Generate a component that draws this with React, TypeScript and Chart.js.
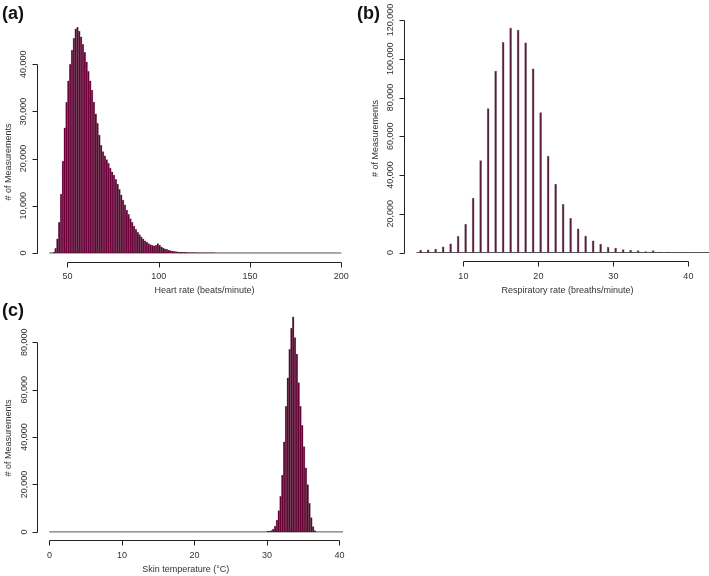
import React, { useEffect, useRef } from 'react';
import { Chart, registerables } from 'chart.js';

Chart.register(...registerables);

const FONT = '"Liberation Sans", Arial, Helvetica, sans-serif';
const PAGE_W = 709;
const PAGE_H = 576;

// ---------- (a) Heart rate ----------
const HR_RANGE = [40, 200];
const HR_BIN_START = 42;
const HR_BIN_WIDTH = 1;
const HR_COUNTS = [
  200, 1000, 3000, 6500, 12500, 19500, 26500, 32000, 36500, 40000,
  43000, 45500, 47500, 47800, 47000, 45800, 44200, 42500, 40500, 38500,
  36500, 34500, 32000, 29500, 27500, 25000, 22800, 21500, 20600, 19800,
  19000, 18000, 17200, 16500, 15600, 14600, 13500, 12300, 11200, 10200,
  9100, 8200, 7300, 6500, 5700, 5000, 4400, 3900, 3400, 3000,
  2600, 2300, 2000, 1800, 1600, 1500, 1600, 2000, 1700, 1300,
  1100, 900, 750, 600, 500, 420, 350, 300, 250, 210,
  180, 150, 130, 110, 90, 80, 70, 60, 50, 45,
  40, 35, 30, 25, 20, 18, 15, 12, 10,
];
const HR_X_TICKS = [50, 100, 150, 200];
const HR_Y_TICKS = [0, 10000, 20000, 30000, 40000];

// ---------- (b) Respiratory rate ----------
const RESP_RANGE = [3.75, 43.75];
const RESP_RATES = [
  4, 5, 6, 7, 8, 9, 10, 11, 12, 13, 14, 15, 16, 17, 18, 19, 20, 21, 22, 23,
  24, 25, 26, 27, 28, 29, 30, 31, 32, 33, 34, 35, 36, 37, 38, 39, 40, 41, 42,
];
const RESP_COUNTS = [
  1400, 1600, 1900, 3100, 4700, 8500, 14700, 28300, 47600, 74500,
  93800, 108600, 116000, 115000, 108400, 95000, 72400, 50000, 35500, 25000,
  17800, 12400, 8600, 6200, 4500, 2900, 2400, 1700, 1400, 1200,
  700, 1200, 400, 400, 200, 200, 100, 100, 50,
];
const RESP_BAR_SHIFT = 0.3;
const RESP_X_TICKS = [10, 20, 30, 40];
const RESP_Y_TICKS = [0, 20000, 40000, 60000, 80000, 100000, 120000];

// ---------- (c) Skin temperature ----------
const SKIN_RANGE = [0, 40.5];
const SKIN_BIN_START = 30.0;
const SKIN_BIN_WIDTH = 0.25;
const SKIN_COUNTS = [
  200, 300, 600, 1200, 2500, 5000, 9000, 15000, 24000, 38000,
  53000, 65000, 77000, 86000, 90800, 82000, 75000, 63000, 53000, 45000,
  36000, 27000, 20000, 12000, 6000, 2200, 600,
];
const SKIN_X_TICKS = [0, 10, 20, 30, 40];
const SKIN_Y_TICKS = [0, 20000, 40000, 60000, 80000];

const fmt = (v: number) => v.toLocaleString('en-US');
const crisp = (v: number) => Math.floor(v) + 0.5;

const rAxesPlugin = {
  id: 'rAxes',
  afterDraw(chart: any, _args: any, opts: any) {
    const ctx = chart.ctx as CanvasRenderingContext2D;
    const xs = chart.scales.x;
    const ys = chart.scales.y;
    const ca = chart.chartArea;
    ctx.save();
    ctx.strokeStyle = '#222';
    ctx.fillStyle = '#333';
    ctx.lineWidth = 1;
    const tick = 5;

    // y axis
    const ax = crisp(ca.left);
    const yTop = ys.getPixelForValue(opts.yTicks[opts.yTicks.length - 1]);
    const yBot = ys.getPixelForValue(opts.yTicks[0]);
    ctx.beginPath();
    ctx.moveTo(ax, Math.round(yBot) + 0.5);
    ctx.lineTo(ax, Math.round(yTop) + 0.5);
    opts.yTicks.forEach((t: number) => {
      const py = Math.round(ys.getPixelForValue(t)) + 0.5;
      ctx.moveTo(ax, py);
      ctx.lineTo(ax - tick, py);
    });
    ctx.stroke();
    ctx.font = `9px ${FONT}`;
    ctx.textAlign = 'center';
    ctx.textBaseline = 'middle';
    opts.yTicks.forEach((t: number) => {
      const py = ys.getPixelForValue(t);
      ctx.save();
      ctx.translate(ca.left - 13.5, py);
      ctx.rotate(-Math.PI / 2);
      ctx.fillText(fmt(t), 0, 0);
      ctx.restore();
    });

    // x axis
    const ay = crisp(ca.bottom);
    const xL = xs.getPixelForValue(opts.xTicks[0]);
    const xR = xs.getPixelForValue(opts.xTicks[opts.xTicks.length - 1]);
    ctx.beginPath();
    ctx.moveTo(Math.round(xL) + 0.5, ay);
    ctx.lineTo(Math.round(xR) + 0.5, ay);
    opts.xTicks.forEach((t: number) => {
      const px = Math.round(xs.getPixelForValue(t)) + 0.5;
      ctx.moveTo(px, ay);
      ctx.lineTo(px, ay + tick);
    });
    ctx.stroke();
    opts.xTicks.forEach((t: number) => {
      ctx.fillText(fmt(t), xs.getPixelForValue(t), ca.bottom + 15);
    });

    // titles
    ctx.fillText(opts.xTitle, opts.xTitlePos[0], opts.xTitlePos[1]);
    ctx.save();
    ctx.translate(opts.yTitlePos[0], opts.yTitlePos[1]);
    ctx.rotate(-Math.PI / 2);
    ctx.fillText('# of Measurements', 0, 0);
    ctx.restore();

    // panel letter
    ctx.fillStyle = '#111';
    ctx.font = `bold 18px ${FONT}`;
    ctx.textAlign = 'left';
    ctx.fillText(opts.letter, opts.letterPos[0], opts.letterPos[1]);
    ctx.restore();
  },
};

type Spec = {
  canvasWidth: number;
  plot: { left: number; right: number; top: number; bottom: number };
  range: number[];
  bars: { x: number; y: number }[];
  barFill: string;
  barBorder: string;
  barBorderWidth: number;
  barPct: number;
  xTicks: number[];
  yTicks: number[];
  xTitle: string;
  xTitlePos: number[];
  yTitlePos: number[];
  letter: string;
  letterPos: number[];
};

function Panel({ spec }: { spec: Spec }) {
  const ref = useRef<HTMLCanvasElement | null>(null);
  useEffect(() => {
    if (!ref.current) return;
    const pad = (spec.range[1] - spec.range[0]) * 0.04;
    const yMax = Math.max(...spec.bars.map((b) => b.y));
    const chart = new Chart(ref.current, {
      type: 'bar',
      data: {
        datasets: [
          {
            type: 'line',
            data: [
              { x: spec.range[0], y: 0 },
              { x: spec.range[1], y: 0 },
            ],
            borderColor: '#555',
            borderWidth: 1,
            pointRadius: 0,
            order: 2,
          } as any,
          {
            type: 'bar',
            data: spec.bars,
            backgroundColor: spec.barFill,
            borderColor: spec.barBorder,
            borderWidth: spec.barBorderWidth,
            barPercentage: spec.barPct,
            categoryPercentage: 1,
            order: 1,
          } as any,
        ],
      },
      options: {
        responsive: false,
        animation: false,
        devicePixelRatio: 1,
        events: [],
        layout: {
          padding: {
            left: spec.plot.left,
            top: spec.plot.top,
            right: spec.canvasWidth - spec.plot.right,
            bottom: PAGE_H - spec.plot.bottom,
          },
        },
        plugins: {
          legend: { display: false },
          tooltip: { enabled: false },
          rAxes: {
            xTicks: spec.xTicks,
            yTicks: spec.yTicks,
            xTitle: spec.xTitle,
            xTitlePos: spec.xTitlePos,
            yTitlePos: spec.yTitlePos,
            letter: spec.letter,
            letterPos: spec.letterPos,
          },
        } as any,
        scales: {
          x: {
            type: 'linear',
            min: spec.range[0] - pad,
            max: spec.range[1] + pad,
            offset: false,
            display: false,
          },
          y: {
            type: 'linear',
            min: -0.04 * yMax,
            max: 1.04 * yMax,
            display: false,
          },
        },
      },
      plugins: [rAxesPlugin],
    });
    return () => chart.destroy();
  }, [spec]);
  return (
    <canvas
      ref={ref}
      width={spec.canvasWidth}
      height={PAGE_H}
      style={{ position: 'absolute', left: 0, top: 0, width: spec.canvasWidth, height: PAGE_H }}
    />
  );
}

const specA: Spec = {
  canvasWidth: PAGE_W,
  plot: { left: 37.5, right: 353, top: 18.4, bottom: 262 },
  range: HR_RANGE,
  bars: HR_COUNTS.map((c, i) => ({ x: HR_BIN_START + i * HR_BIN_WIDTH + HR_BIN_WIDTH / 2, y: c })),
  barFill: '#6c0039',
  barBorder: 'rgba(30,0,15,0.45)',
  barBorderWidth: 0.5,
  barPct: 1,
  xTicks: HR_X_TICKS,
  yTicks: HR_Y_TICKS,
  xTitle: 'Heart rate (beats/minute)',
  xTitlePos: [204.5, 291],
  yTitlePos: [8.3, 162],
  letter: '(a)',
  letterPos: [2, 14],
};

const specB: Spec = {
  canvasWidth: 730,
  plot: { left: 404.5, right: 728.5, top: 18.8, bottom: 261.5 },
  range: RESP_RANGE,
  bars: RESP_RATES.map((r, i) => ({ x: r + RESP_BAR_SHIFT, y: RESP_COUNTS[i] })),
  barFill: '#5a1a3c',
  barBorder: 'rgba(30,5,18,0.6)',
  barBorderWidth: 0.5,
  barPct: 0.36,
  xTicks: RESP_X_TICKS,
  yTicks: RESP_Y_TICKS,
  xTitle: 'Respiratory rate (breaths/minute)',
  xTitlePos: [567.5, 291],
  yTitlePos: [376, 138.5],
  letter: '(b)',
  letterPos: [357, 14.5],
};

const specC: Spec = {
  canvasWidth: PAGE_W,
  plot: { left: 37.7, right: 354.8, top: 308.1, bottom: 540.5 },
  range: SKIN_RANGE,
  bars: SKIN_COUNTS.map((c, i) => ({ x: SKIN_BIN_START + i * SKIN_BIN_WIDTH + SKIN_BIN_WIDTH / 2, y: c })),
  barFill: '#650034',
  barBorder: 'rgba(30,0,15,0.45)',
  barBorderWidth: 0.5,
  barPct: 1,
  xTicks: SKIN_X_TICKS,
  yTicks: SKIN_Y_TICKS,
  xTitle: 'Skin temperature (\u00B0C)',
  xTitlePos: [185.7, 570],
  yTitlePos: [8.3, 438],
  letter: '(c)',
  letterPos: [2, 311],
};

export default function App() {
  return (
    <div
      style={{
        position: 'fixed',
        left: 0,
        top: 0,
        width: PAGE_W,
        height: PAGE_H,
        overflow: 'hidden',
        background: '#ffffff',
      }}
    >
      <Panel spec={specA} />
      <Panel spec={specB} />
      <Panel spec={specC} />
    </div>
  );
}
